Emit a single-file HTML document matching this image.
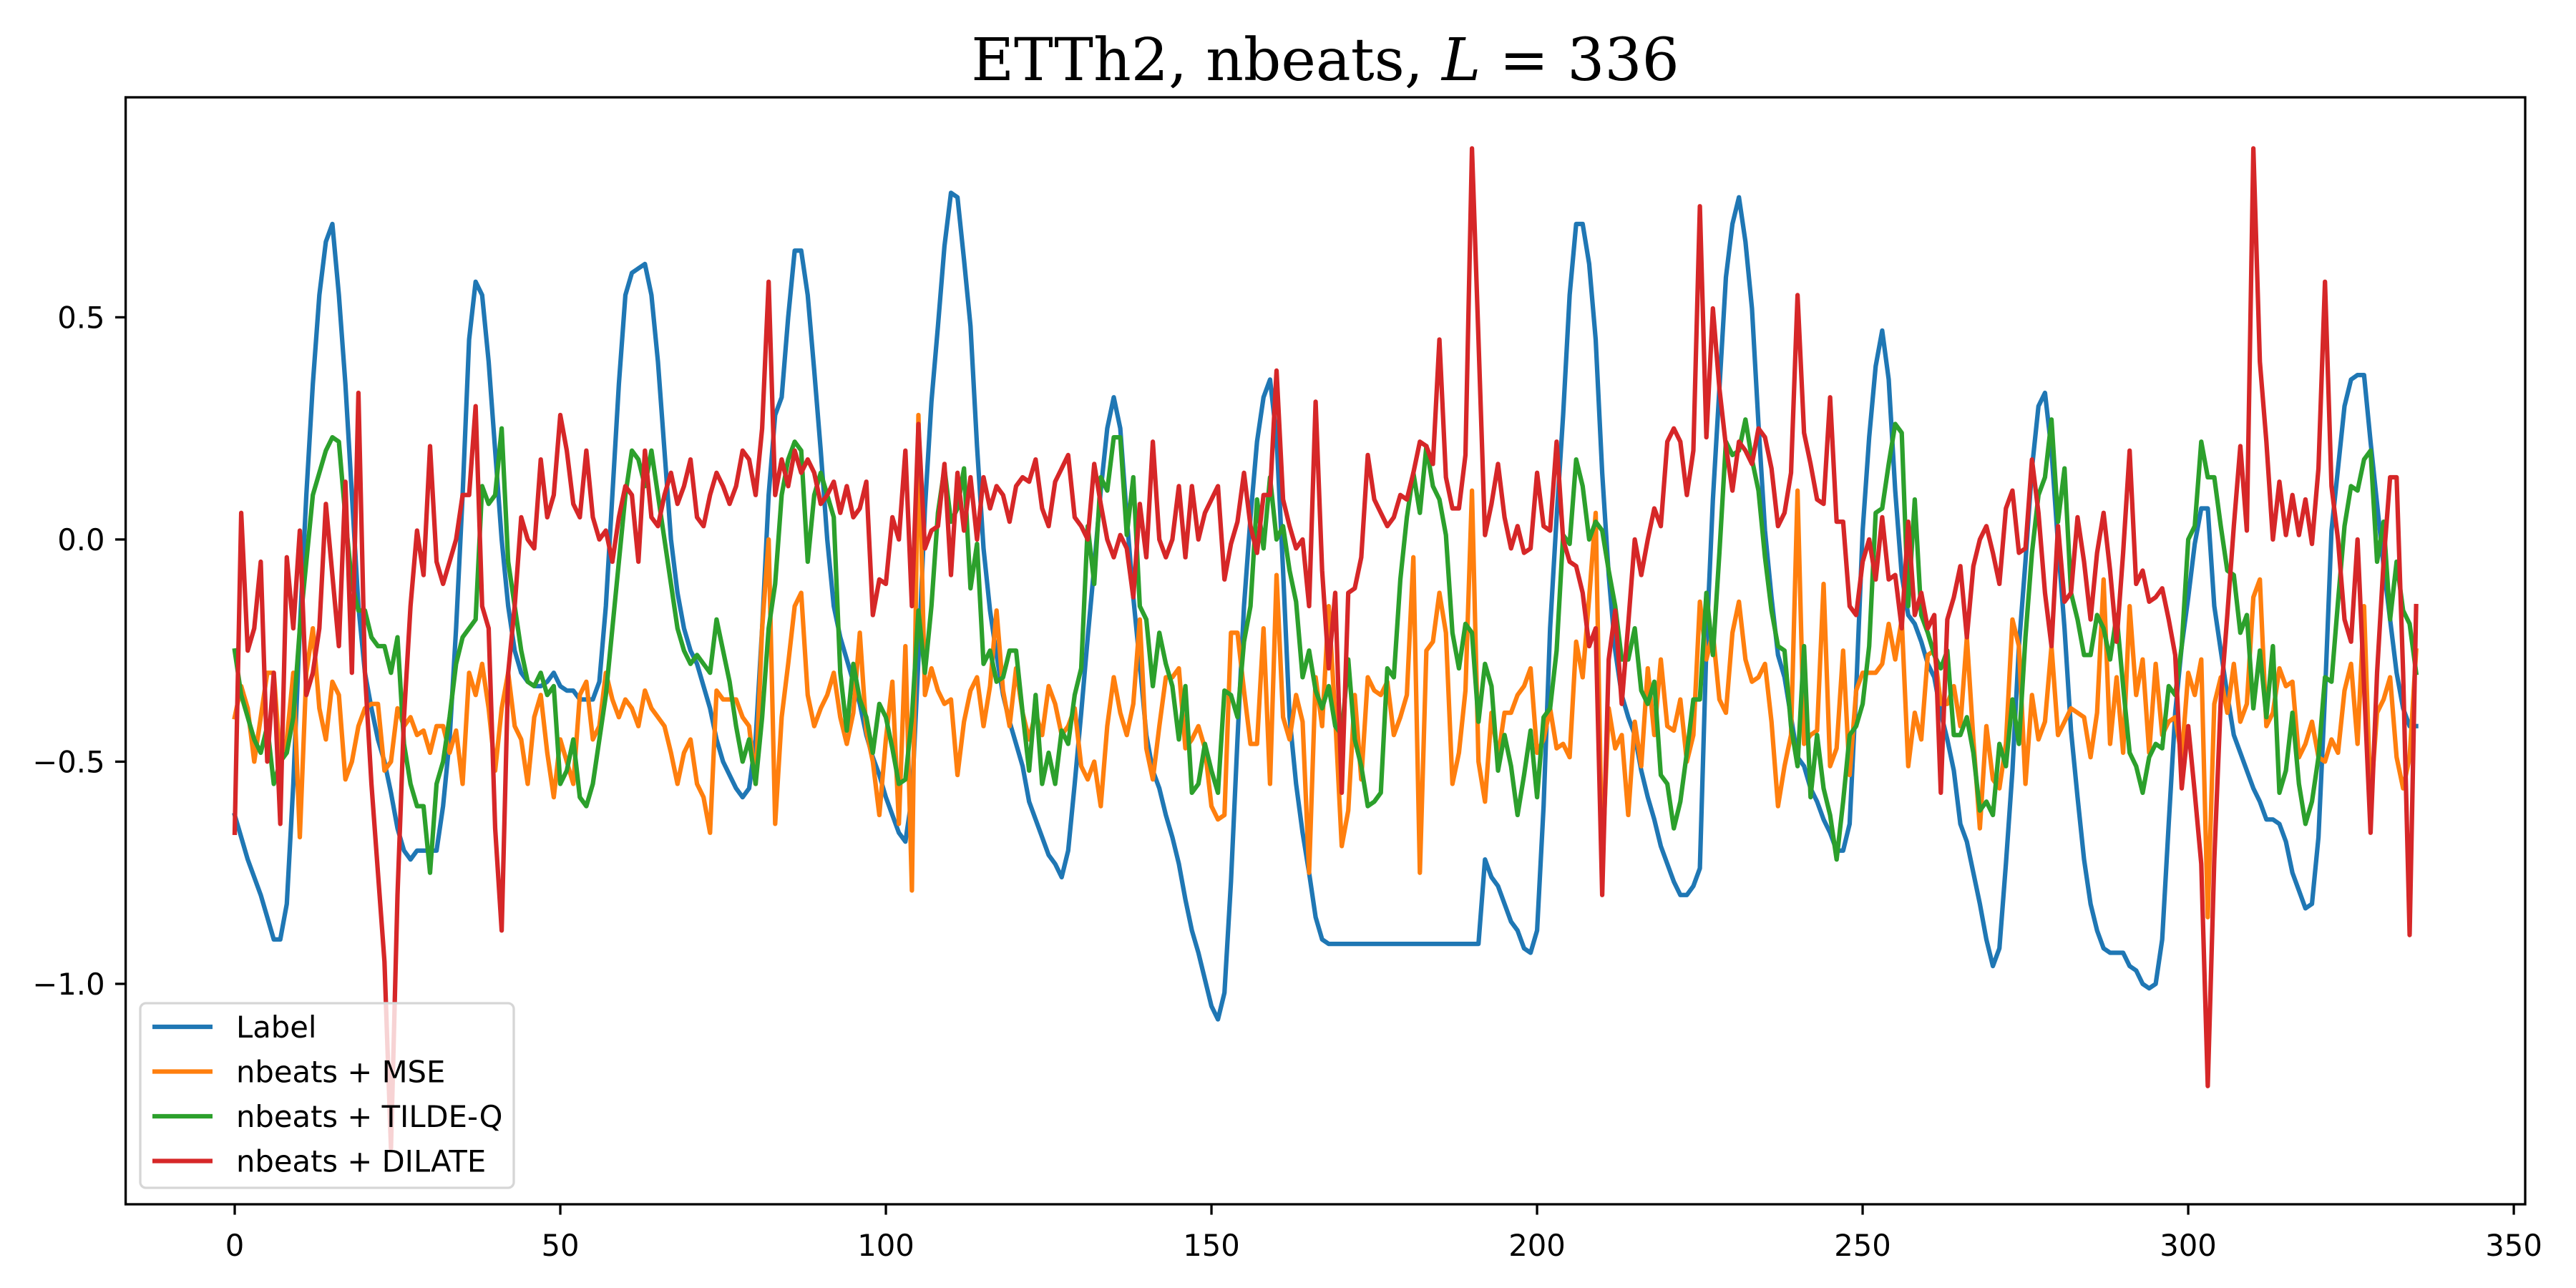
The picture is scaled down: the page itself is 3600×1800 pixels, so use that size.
<!DOCTYPE html>
<html><head><meta charset="utf-8"><style>
html,body{margin:0;padding:0;background:#fff}
svg{display:block}
</style></head><body>
<svg id="chart" width="3600" height="1800" viewBox="0 0 3600 1800" xmlns="http://www.w3.org/2000/svg">
<rect x="0" y="0" width="3600" height="1800" fill="#fff"/>
<text x="1852" y="112" text-anchor="middle" font-family="'DejaVu Serif','Liberation Serif',serif" font-size="82" fill="#000">ETTh2, nbeats, <tspan font-style="italic">L</tspan> = 336</text>
<g id="plot"></g>
<g id="axes"></g>
<g id="legend"></g>
</svg>
<script>
const xTicks = [0, 50, 100, 150, 200, 250, 300, 350];
const yTicks = [-1.0, -0.5, 0.0, 0.5];
const yTickLabels = ["\u22121.0", "\u22120.5", "0.0", "0.5"];
const seriesNames = ["Label", "nbeats + MSE", "nbeats + TILDE-Q", "nbeats + DILATE"];
const label = [
-0.62,-0.67,-0.72,-0.76,-0.80,-0.85,-0.90,-0.90,-0.82,-0.55,
-0.20,0.10,0.35,0.55,0.67,0.71,0.55,0.35,0.10,-0.15,
-0.30,-0.38,-0.45,-0.50,-0.57,-0.65,-0.70,-0.72,-0.70,-0.70,
-0.70,-0.70,-0.60,-0.45,-0.20,0.10,0.45,0.58,0.55,0.40,
0.20,0.00,-0.15,-0.25,-0.30,-0.32,-0.33,-0.33,-0.32,-0.30,
-0.33,-0.34,-0.34,-0.36,-0.36,-0.36,-0.32,-0.15,0.10,0.35,
0.55,0.60,0.61,0.62,0.55,0.40,0.20,0.00,-0.12,-0.20,
-0.25,-0.28,-0.33,-0.38,-0.45,-0.50,-0.53,-0.56,-0.58,-0.56,
-0.45,-0.20,0.10,0.28,0.32,0.50,0.65,0.65,0.55,0.38,
0.20,0.00,-0.15,-0.22,-0.27,-0.32,-0.37,-0.44,-0.49,-0.53,
-0.58,-0.62,-0.66,-0.68,-0.58,-0.27,0.07,0.31,0.48,0.66,
0.78,0.77,0.63,0.48,0.21,-0.02,-0.16,-0.26,-0.35,-0.41,
-0.46,-0.51,-0.59,-0.63,-0.67,-0.71,-0.73,-0.76,-0.70,-0.55,
-0.39,-0.22,-0.06,0.11,0.25,0.32,0.25,0.05,-0.13,-0.28,
-0.44,-0.52,-0.56,-0.62,-0.67,-0.73,-0.81,-0.88,-0.93,-0.99,
-1.05,-1.08,-1.02,-0.77,-0.45,-0.15,0.05,0.22,0.32,0.36,
0.23,-0.07,-0.40,-0.55,-0.66,-0.75,-0.85,-0.90,-0.91,-0.91,
-0.91,-0.91,-0.91,-0.91,-0.91,-0.91,-0.91,-0.91,-0.91,-0.91,
-0.91,-0.91,-0.91,-0.91,-0.91,-0.91,-0.91,-0.91,-0.91,-0.91,
-0.91,-0.91,-0.72,-0.76,-0.78,-0.82,-0.86,-0.88,-0.92,-0.93,
-0.88,-0.60,-0.20,0.05,0.28,0.55,0.71,0.71,0.62,0.45,
0.15,-0.08,-0.25,-0.35,-0.40,-0.44,-0.52,-0.58,-0.63,-0.69,
-0.73,-0.77,-0.80,-0.80,-0.78,-0.74,-0.24,0.09,0.34,0.59,
0.71,0.77,0.67,0.52,0.26,0.02,-0.13,-0.26,-0.31,-0.40,
-0.49,-0.51,-0.56,-0.59,-0.63,-0.66,-0.70,-0.70,-0.64,-0.34,
0.02,0.23,0.39,0.47,0.36,0.11,-0.08,-0.17,-0.19,-0.23,
-0.28,-0.31,-0.39,-0.45,-0.52,-0.64,-0.68,-0.75,-0.82,-0.90,
-0.96,-0.92,-0.73,-0.52,-0.24,-0.05,0.16,0.30,0.33,0.20,
-0.01,-0.20,-0.43,-0.58,-0.72,-0.82,-0.88,-0.92,-0.93,-0.93,
-0.93,-0.96,-0.97,-1.00,-1.01,-1.00,-0.90,-0.64,-0.39,-0.24,
-0.13,-0.01,0.07,0.07,-0.15,-0.25,-0.35,-0.44,-0.48,-0.52,
-0.56,-0.59,-0.63,-0.63,-0.64,-0.68,-0.75,-0.79,-0.83,-0.82,
-0.67,-0.35,0.02,0.16,0.30,0.36,0.37,0.37,0.22,0.08,
-0.06,-0.18,-0.30,-0.38,-0.42,-0.42];
const mse = [
-0.40,-0.33,-0.38,-0.50,-0.40,-0.30,-0.30,-0.50,-0.45,-0.30,
-0.67,-0.30,-0.20,-0.38,-0.45,-0.32,-0.35,-0.54,-0.50,-0.42,
-0.38,-0.37,-0.37,-0.52,-0.50,-0.38,-0.42,-0.40,-0.44,-0.43,
-0.48,-0.42,-0.42,-0.48,-0.43,-0.55,-0.30,-0.35,-0.28,-0.38,
-0.52,-0.38,-0.30,-0.42,-0.45,-0.55,-0.40,-0.35,-0.48,-0.58,
-0.45,-0.50,-0.55,-0.35,-0.32,-0.45,-0.42,-0.30,-0.36,-0.40,
-0.36,-0.38,-0.42,-0.34,-0.38,-0.40,-0.42,-0.48,-0.55,-0.48,
-0.45,-0.55,-0.58,-0.66,-0.34,-0.36,-0.36,-0.36,-0.40,-0.42,
-0.55,-0.20,0.00,-0.64,-0.40,-0.28,-0.15,-0.12,-0.35,-0.42,
-0.38,-0.35,-0.30,-0.40,-0.46,-0.39,-0.21,-0.43,-0.50,-0.62,
-0.45,-0.32,-0.64,-0.24,-0.79,0.28,-0.35,-0.29,-0.34,-0.37,
-0.36,-0.53,-0.41,-0.34,-0.31,-0.42,-0.33,-0.16,-0.34,-0.42,
-0.29,-0.39,-0.45,-0.39,-0.44,-0.33,-0.37,-0.44,-0.42,-0.38,
-0.51,-0.54,-0.50,-0.60,-0.42,-0.31,-0.39,-0.44,-0.37,-0.18,
-0.47,-0.54,-0.42,-0.31,-0.31,-0.29,-0.47,-0.45,-0.42,-0.47,
-0.60,-0.63,-0.62,-0.21,-0.21,-0.34,-0.46,-0.46,-0.20,-0.55,
-0.08,-0.40,-0.45,-0.35,-0.41,-0.75,-0.31,-0.42,-0.15,-0.40,
-0.69,-0.61,-0.35,-0.54,-0.31,-0.34,-0.35,-0.32,-0.44,-0.40,
-0.35,-0.04,-0.75,-0.25,-0.23,-0.12,-0.21,-0.55,-0.48,-0.34,
0.11,-0.50,-0.59,-0.39,-0.49,-0.39,-0.39,-0.35,-0.33,-0.29,
-0.48,-0.45,-0.38,-0.47,-0.46,-0.49,-0.23,-0.31,-0.13,0.06,
-0.73,-0.38,-0.47,-0.44,-0.62,-0.41,-0.51,-0.29,-0.44,-0.27,
-0.42,-0.43,-0.36,-0.50,-0.44,-0.14,-0.27,-0.21,-0.36,-0.39,
-0.21,-0.14,-0.27,-0.32,-0.31,-0.28,-0.41,-0.60,-0.51,-0.44,
0.11,-0.46,-0.44,-0.43,-0.10,-0.51,-0.47,-0.25,-0.53,-0.34,
-0.30,-0.30,-0.30,-0.28,-0.19,-0.27,-0.18,-0.51,-0.39,-0.45,
-0.26,-0.25,-0.37,-0.37,-0.33,-0.42,-0.22,-0.45,-0.65,-0.42,
-0.54,-0.56,-0.46,-0.18,-0.24,-0.55,-0.35,-0.45,-0.41,-0.24,
-0.44,-0.41,-0.38,-0.39,-0.40,-0.49,-0.39,-0.09,-0.46,-0.31,
-0.48,-0.15,-0.35,-0.27,-0.48,-0.28,-0.44,-0.41,-0.40,-0.49,
-0.30,-0.35,-0.27,-0.85,-0.37,-0.31,-0.39,-0.28,-0.41,-0.37,
-0.13,-0.09,-0.42,-0.39,-0.29,-0.33,-0.32,-0.49,-0.46,-0.41,
-0.49,-0.50,-0.45,-0.48,-0.34,-0.28,-0.46,-0.15,-0.59,-0.39,
-0.36,-0.31,-0.49,-0.56,-0.49,-0.25];
const tildeq = [
-0.25,-0.35,-0.40,-0.45,-0.48,-0.42,-0.55,-0.50,-0.48,-0.40,
-0.20,-0.05,0.10,0.15,0.20,0.23,0.22,0.05,-0.10,-0.16,
-0.16,-0.22,-0.24,-0.24,-0.30,-0.22,-0.46,-0.55,-0.60,-0.60,
-0.75,-0.55,-0.50,-0.40,-0.28,-0.22,-0.20,-0.18,0.12,0.08,
0.10,0.25,-0.05,-0.15,-0.25,-0.32,-0.33,-0.30,-0.35,-0.33,
-0.55,-0.52,-0.45,-0.58,-0.60,-0.55,-0.45,-0.35,-0.20,-0.05,
0.10,0.20,0.18,0.12,0.20,0.10,0.00,-0.10,-0.20,-0.25,
-0.28,-0.26,-0.28,-0.30,-0.18,-0.25,-0.32,-0.42,-0.50,-0.45,
-0.55,-0.40,-0.20,-0.10,0.10,0.18,0.22,0.20,-0.05,0.10,
0.15,0.10,0.05,-0.30,-0.43,-0.28,-0.36,-0.40,-0.48,-0.37,
-0.40,-0.47,-0.55,-0.54,-0.40,-0.16,-0.30,-0.15,0.06,0.16,
0.04,0.07,0.16,-0.11,-0.01,-0.28,-0.25,-0.32,-0.31,-0.25,
-0.25,-0.39,-0.52,-0.35,-0.55,-0.48,-0.55,-0.43,-0.46,-0.35,
-0.29,0.03,-0.10,0.14,0.11,0.23,0.23,0.01,0.14,-0.15,
-0.18,-0.33,-0.21,-0.28,-0.33,-0.45,-0.33,-0.57,-0.55,-0.46,
-0.52,-0.57,-0.34,-0.35,-0.40,-0.23,-0.15,0.09,-0.02,0.14,
0.00,0.03,-0.07,-0.14,-0.31,-0.25,-0.34,-0.38,-0.33,-0.42,
-0.44,-0.27,-0.45,-0.51,-0.60,-0.59,-0.57,-0.29,-0.31,-0.09,
0.05,0.15,0.06,0.21,0.12,0.09,0.01,-0.21,-0.29,-0.19,
-0.21,-0.41,-0.28,-0.33,-0.52,-0.44,-0.51,-0.62,-0.53,-0.43,
-0.58,-0.40,-0.38,-0.25,0.01,-0.01,0.18,0.12,0.00,0.04,
0.02,-0.07,-0.15,-0.27,-0.27,-0.20,-0.34,-0.37,-0.32,-0.53,
-0.55,-0.65,-0.59,-0.48,-0.36,-0.36,-0.12,-0.26,-0.03,0.22,
0.19,0.20,0.27,0.18,0.11,-0.04,-0.16,-0.24,-0.25,-0.42,
-0.51,-0.24,-0.58,-0.44,-0.56,-0.62,-0.72,-0.59,-0.44,-0.42,
-0.37,-0.24,0.06,0.07,0.17,0.26,0.24,-0.15,0.09,-0.17,
-0.21,-0.26,-0.29,-0.25,-0.44,-0.44,-0.40,-0.48,-0.61,-0.59,
-0.62,-0.46,-0.51,-0.36,-0.46,-0.22,-0.03,0.10,0.14,0.27,
0.04,0.16,-0.12,-0.18,-0.26,-0.26,-0.17,-0.20,-0.27,-0.17,
-0.33,-0.48,-0.51,-0.57,-0.49,-0.46,-0.47,-0.33,-0.35,-0.24,
0.00,0.03,0.22,0.14,0.14,0.03,-0.07,-0.08,-0.21,-0.17,
-0.38,-0.25,-0.40,-0.24,-0.57,-0.52,-0.39,-0.55,-0.64,-0.59,
-0.49,-0.31,-0.32,-0.14,0.03,0.12,0.11,0.18,0.20,-0.05,
0.04,-0.18,-0.05,-0.16,-0.19,-0.30];
const dilate = [
-0.66,0.06,-0.25,-0.20,-0.05,-0.50,-0.30,-0.64,-0.04,-0.20,
0.02,-0.35,-0.30,-0.20,0.08,-0.08,-0.24,0.13,-0.30,0.33,
-0.30,-0.55,-0.75,-0.95,-1.37,-0.80,-0.40,-0.15,0.02,-0.08,
0.21,-0.05,-0.10,-0.05,0.00,0.10,0.10,0.30,-0.15,-0.20,
-0.65,-0.88,-0.30,-0.15,0.05,0.00,-0.02,0.18,0.05,0.10,
0.28,0.20,0.08,0.05,0.20,0.05,0.00,0.02,-0.05,0.05,
0.12,0.10,-0.05,0.20,0.05,0.03,0.10,0.15,0.08,0.12,
0.18,0.05,0.03,0.10,0.15,0.12,0.08,0.12,0.20,0.18,
0.10,0.25,0.58,0.10,0.18,0.12,0.20,0.15,0.18,0.15,
0.08,0.10,0.13,0.06,0.12,0.05,0.07,0.13,-0.17,-0.09,
-0.10,0.05,0.00,0.20,-0.15,0.26,-0.02,0.02,0.03,0.17,
-0.08,0.15,0.02,0.14,0.00,0.14,0.07,0.12,0.10,0.04,
0.12,0.14,0.13,0.18,0.07,0.03,0.13,0.16,0.19,0.05,
0.03,0.00,0.17,0.08,0.00,-0.04,0.01,-0.02,-0.13,0.08,
-0.04,0.22,0.00,-0.04,0.00,0.12,-0.04,0.12,0.00,0.06,
0.09,0.12,-0.09,-0.01,0.04,0.15,0.03,-0.03,0.10,0.10,
0.38,0.09,0.03,-0.02,0.00,-0.15,0.31,-0.07,-0.29,-0.12,
-0.57,-0.12,-0.11,-0.04,0.19,0.09,0.06,0.03,0.05,0.10,
0.09,0.15,0.22,0.21,0.17,0.45,0.14,0.07,0.07,0.19,
0.88,0.45,0.01,0.08,0.17,0.05,-0.02,0.03,-0.03,-0.02,
0.15,0.03,0.02,0.22,0.00,-0.05,-0.06,-0.12,-0.24,-0.20,
-0.80,-0.27,-0.16,-0.37,-0.19,0.00,-0.08,0.00,0.07,0.03,
0.22,0.25,0.22,0.10,0.20,0.75,0.23,0.52,0.34,0.21,
0.11,0.22,0.20,0.17,0.25,0.23,0.16,0.03,0.06,0.15,
0.55,0.24,0.17,0.09,0.08,0.32,0.04,0.04,-0.15,-0.17,
-0.05,0.00,-0.09,0.05,-0.09,-0.08,-0.20,0.04,-0.17,-0.12,
-0.20,-0.17,-0.57,-0.18,-0.13,-0.06,-0.22,-0.06,0.00,0.03,
-0.03,-0.10,0.07,0.11,-0.03,-0.02,0.18,0.06,-0.12,-0.24,
0.03,-0.14,-0.12,0.05,-0.05,-0.18,-0.03,0.06,-0.07,-0.23,
-0.03,0.20,-0.10,-0.07,-0.14,-0.13,-0.11,-0.18,-0.26,-0.56,
-0.42,-0.57,-0.73,-1.23,-0.72,-0.36,-0.17,0.03,0.21,0.02,
0.88,0.40,0.22,0.00,0.13,0.01,0.10,0.01,0.09,-0.01,
0.16,0.58,0.12,0.00,-0.18,-0.23,0.00,-0.33,-0.66,-0.30,
-0.05,0.14,0.14,-0.30,-0.89,-0.15];

const AX = {left:175.6, right:3529, top:136, bottom:1683};
const XMIN = -16.75, XMAX = 351.75, YMIN = -1.496, YMAX = 0.995;
function xScale(v){ return AX.left + (v - XMIN) / (XMAX - XMIN) * (AX.right - AX.left); }
function yScale(v){ return AX.bottom - (v - YMIN) / (YMAX - YMIN) * (AX.bottom - AX.top); }
const NS = "http://www.w3.org/2000/svg";
function mk(tag, attrs){ const e = document.createElementNS(NS, tag); for (const k in attrs) e.setAttribute(k, attrs[k]); return e; }

const plot = document.getElementById('plot');
const axes = document.getElementById('axes');
const legend = document.getElementById('legend');
const colors = ["#1f77b4", "#ff7f0e", "#2ca02c", "#d62728"];
const allSeries = [label, mse, tildeq, dilate];
const seriesKeys = ["label", "mse", "tilde-q", "dilate"];

const defs = mk('defs', {});
const cp = mk('clipPath', {id:'clip'});
cp.appendChild(mk('rect', {x:AX.left, y:AX.top, width:AX.right-AX.left, height:AX.bottom-AX.top}));
defs.appendChild(cp);
document.getElementById('chart').insertBefore(defs, plot);
plot.setAttribute('clip-path', 'url(#clip)');

allSeries.forEach((arr, si) => {
  const d = arr.map((v, i) => (i ? 'L' : 'M') + xScale(i).toFixed(1) + ' ' + yScale(v).toFixed(1)).join(' ');
  const p = mk('path', {d:d, fill:'none', stroke:colors[si], 'stroke-width':6.25, 'stroke-linejoin':'round', 'stroke-linecap':'square'});
  
  
  plot.appendChild(p);
});

const frame = mk('rect', {x:AX.left, y:AX.top, width:AX.right-AX.left, height:AX.bottom-AX.top, fill:'none', stroke:'#000', 'stroke-width':3.3});


axes.appendChild(frame);

const font = "'DejaVu Sans','Liberation Sans',sans-serif";
xTicks.forEach(t => {
  const x = xScale(t);
  const tk = mk('line', {x1:x, x2:x, y1:AX.bottom, y2:AX.bottom+14.6, stroke:'#000', 'stroke-width':3.3});
  
  
  axes.appendChild(tk);
  const tx = mk('text', {x:x, y:AX.bottom+72, 'text-anchor':'middle', 'font-family':font, 'font-size':41.7, fill:'#000'});
  tx.textContent = String(t);
  
  
  axes.appendChild(tx);
});
yTicks.forEach((t, i) => {
  const y = yScale(t);
  const tk = mk('line', {x1:AX.left-14.6, x2:AX.left, y1:y, y2:y, stroke:'#000', 'stroke-width':3.3});
  
  
  axes.appendChild(tk);
  const tx = mk('text', {x:AX.left-29, y:y+15, 'text-anchor':'end', 'font-family':font, 'font-size':41.7, fill:'#000'});
  tx.textContent = yTickLabels[i];
  
  
  axes.appendChild(tx);
});

const box = mk('rect', {x:196, y:1402, width:522, height:258, rx:8, fill:'#fff', 'fill-opacity':0.8, stroke:'#d6d6d6', 'stroke-width':3.3});


legend.appendChild(box);
seriesNames.forEach((n, i) => {
  const y = 1435 + i * 62.5;
  const g = mk('g', {});
  
  
  g.appendChild(mk('line', {x1:213, x2:297, y1:y, y2:y, stroke:colors[i], 'stroke-width':6.25}));
  const tx = mk('text', {x:330, y:y+15, 'font-family':font, 'font-size':41.7, fill:'#000'});
  tx.textContent = n;
  g.appendChild(tx);
  legend.appendChild(g);
});
</script>
</body></html>
